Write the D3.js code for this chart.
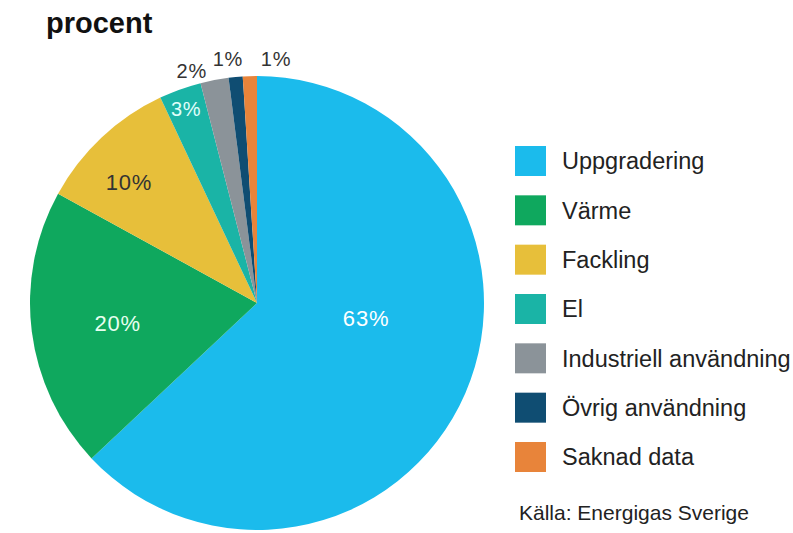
<!DOCTYPE html>
<html><head><meta charset="utf-8">
<script src="https://cdn.jsdelivr.net/npm/d3@7"></script>
<style>body{margin:0;background:#fff}svg{display:block;font-family:"Liberation Sans",Arial,sans-serif}</style>
</head><body>
<svg id="c" width="793" height="533"></svg>
<script>
const categories = ["Uppgradering","Värme","Fackling","El","Industriell användning","Övrig användning","Saknad data"];
const values = [63,20,10,3,2,1,1];
const labels = ["63%","20%","10%","3%","2%","1%","1%"];
const colors = ["#1bbbec","#0fa85e","#e7bf3a","#1ab4a6","#8b9399","#0f4d72","#e8843a"];
const labelColors = ["#ffffff","#e8fff0","#333333","#e0fffb","#333333","#333333","#333333"];
const labelRadius = [0.485,0.62,0.776,0.912,1.062,1.082,1.078];
const labelAngleShiftDeg = [-15.6,-1,-3.4,-0.2,-4.9,-1.4,6.25];
const labelSize = [22,22,22,20,20,20,20];

const svg = d3.select("#c");
const cx = 257, cy = 303, r = 227;
const g = svg.append("g").attr("transform",`translate(${cx},${cy})`);
const pie = d3.pie().sort(null).value(d=>d)(values);
const arc = d3.arc().innerRadius(0).outerRadius(r);
g.selectAll("path").data(pie).join("path")
  .attr("d",arc).attr("fill",(d,i)=>colors[i]);
g.selectAll("text").data(pie).join("text")
  .attr("transform",(d,i)=>{
    const a=(d.startAngle+d.endAngle)/2+labelAngleShiftDeg[i]*Math.PI/180;
    const rr=r*labelRadius[i];
    return `translate(${Math.sin(a)*rr},${-Math.cos(a)*rr})`;})
  .attr("text-anchor","middle").attr("dy","0.36em")
  .attr("font-size",(d,i)=>labelSize[i]).attr("letter-spacing","0.8px").attr("fill",(d,i)=>labelColors[i])
  .text((d,i)=>labels[i]);

svg.append("text").attr("x",46).attr("y",33).attr("font-size",29).attr("font-weight","bold").attr("fill","#111").text("procent");

const ly = d3.scalePoint().domain(categories).range([161,457]);
const lg = svg.append("g");
categories.forEach((c,i)=>{
  const y = ly(c);
  lg.append("rect").attr("x",515).attr("y",y-15).attr("width",31).attr("height",30).attr("fill",colors[i]);
  lg.append("text").attr("x",562).attr("y",y).attr("dy","0.36em").attr("font-size",23.5).attr("fill","#222").text(c);
});
svg.append("text").attr("x",519).attr("y",512).attr("dy","0.36em").attr("font-size",21).attr("fill","#222").text("Källa: Energigas Sverige");
</script>
</body></html>
